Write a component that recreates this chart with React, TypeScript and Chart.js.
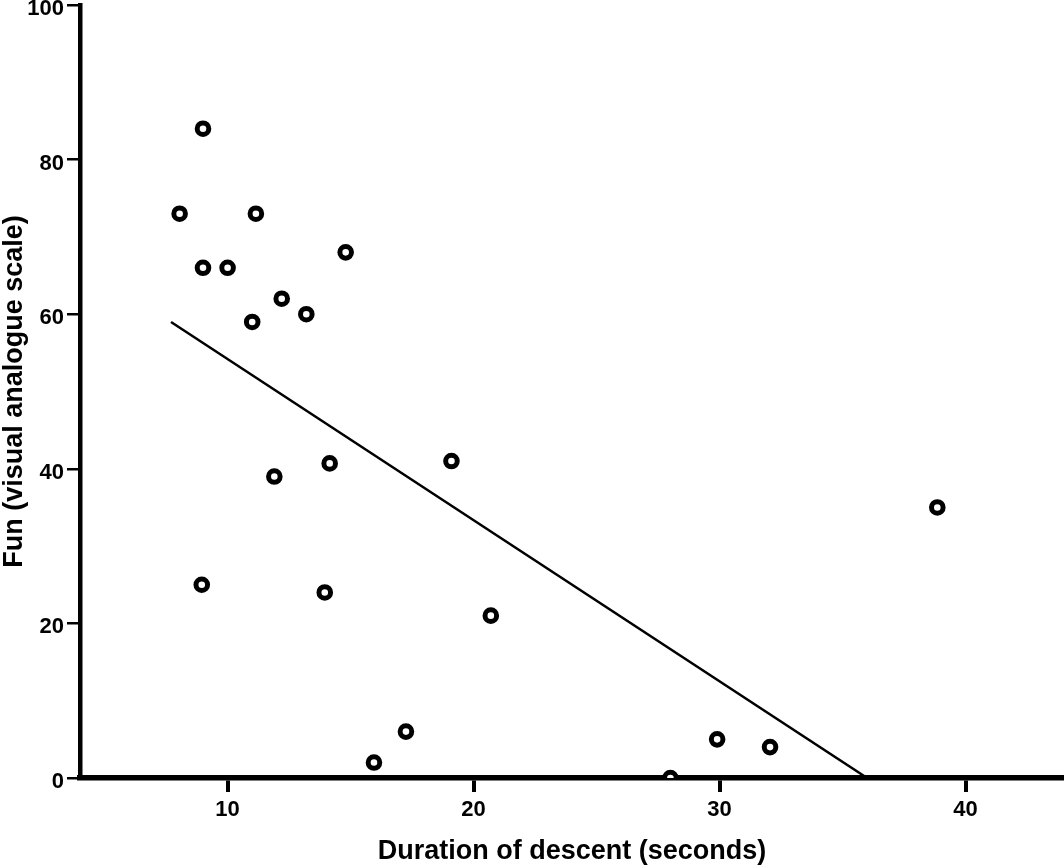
import React, { useEffect, useRef } from "react"
import Chart from "chart.js/auto"

// values
const duration = [9.0, 8.05, 11.15, 14.8, 9.0, 10.0, 12.2, 13.2, 11.0, 11.9, 14.15, 19.1, 8.95, 13.95, 20.7, 15.95, 17.25, 28.0, 29.9, 32.05, 38.85]
const fun = [84, 73, 73, 68, 66, 66, 62, 60, 59, 39, 40.7, 41, 25, 24, 21, 2, 6, 0, 5, 4, 35]

// regression line end points
const fitDuration = [7.7, 36.0]
const fitFun = [59, 0]

const xTicks = [10, 20, 30, 40]
const yTicks = [0, 20, 40, 60, 80, 100]

const family = "'Liberation Sans', Arial, sans-serif"

export default function App() {
  const ref = useRef<HTMLCanvasElement>(null)

  useEffect(() => {
    let chart: Chart | null = null
    if (ref.current) {
      chart = new Chart(ref.current, {
        type: "scatter",
        data: {
          datasets: [
            {
              data: duration.map((x, i) => ({ x, y: fun[i] })),
              pointRadius: 5.8,
              pointHoverRadius: 5.8,
              pointBorderWidth: 5,
              borderColor: "#000",
              backgroundColor: "#fff",
              clip: { left: 20, top: 20, right: 20, bottom: 0 },
            },
            {
              data: fitDuration.map((x, i) => ({ x, y: fitFun[i] })),
              showLine: true,
              borderColor: "#000",
              borderWidth: 2.5,
              pointRadius: 0,
              pointHoverRadius: 0,
            },
          ],
        },
        options: {
          animation: false,
          responsive: false,
          events: [],
          layout: { autoPadding: false, padding: { top: 5, left: 0, right: 0, bottom: 0 } },
          plugins: {
            legend: { display: false },
            tooltip: { enabled: false },
          },
          scales: {
            x: {
              type: "linear",
              min: 4,
              max: 44,
              afterBuildTicks: (s: any) => {
                s.ticks = xTicks.map((value) => ({ value }))
              },
              afterFit: (s: any) => {
                s.height = 89
                s.paddingLeft = 0
                s.paddingRight = 0
              },
              border: { color: "#000", width: 5.5 },
              grid: { drawOnChartArea: false, color: "#000", lineWidth: 4, tickLength: 14 },
              ticks: {
                color: "#000",
                padding: 5,
                maxRotation: 0,
                font: { family, size: 22, weight: "bold" },
              },
              title: {
                display: true,
                text: "Duration of descent (seconds)",
                color: "#000",
                font: { family, size: 27, weight: "bold", lineHeight: 1.1 },
                padding: { top: 0, bottom: 1 },
              },
            },
            y: {
              type: "linear",
              min: 0,
              max: 100,
              afterBuildTicks: (s: any) => {
                s.ticks = yTicks.map((value) => ({ value }))
              },
              afterFit: (s: any) => {
                s.width = 80
                s.paddingTop = 0
                s.paddingBottom = 0
              },
              border: { color: "#000", width: 4.5 },
              grid: { drawOnChartArea: false, color: "#000", lineWidth: 2.5, tickLength: 13 },
              ticks: {
                color: "#000",
                padding: 3,
                labelOffset: 4,
                font: { family, size: 22, weight: "bold" },
              },
              title: {
                display: true,
                text: "Fun (visual analogue scale)",
                color: "#000",
                font: { family, size: 27, weight: "bold", lineHeight: 1.1 },
                padding: { top: 0, bottom: 0 },
              },
            },
          },
        },
      })
    }
    return () => {
      chart?.destroy()
    }
  }, [])

  return (
    <canvas
      ref={ref}
      width={1064}
      height={867}
      style={{ position: "absolute", left: 0, top: 0 }}
    />
  )
}
